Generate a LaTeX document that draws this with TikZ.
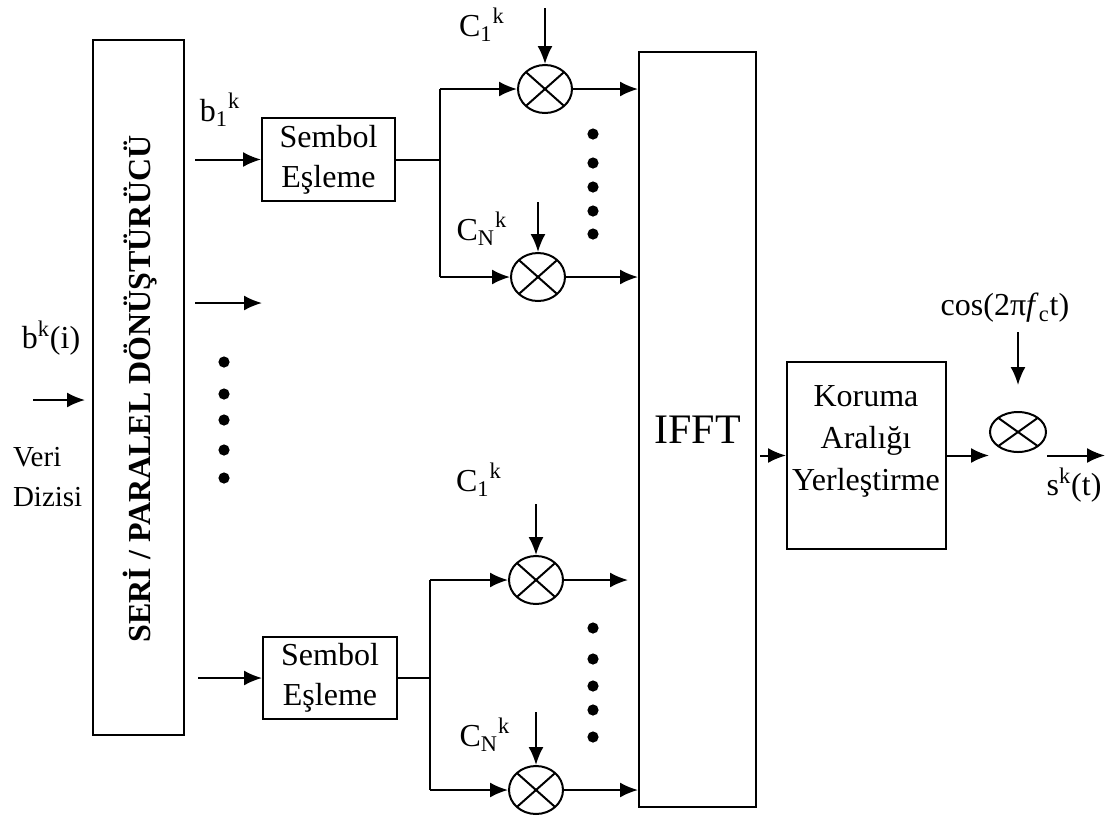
\documentclass[tikz,border=0pt]{standalone}
\usepackage{fontspec}
\setmainfont{Liberation Serif}
\usetikzlibrary{shapes.geometric,arrows.meta}

\begin{document}
\begin{tikzpicture}[x=0.5pt, y=-0.5pt, line width=1pt,
    every node/.style={font=\fontsize{16}{20}\selectfont},
    >={Latex[length=9pt,width=7.5pt]},
    blok/.style={draw, rectangle, align=center, inner sep=0pt},
    mixer/.style={draw, ellipse, minimum width=27pt, minimum height=24pt, inner sep=0pt,
        path picture={\draw (path picture bounding box.north west) -- (path picture bounding box.south east)
            (path picture bounding box.north east) -- (path picture bounding box.south west);}}]
    \useasboundingbox (0,0) rectangle (1110,821);

    % Seri / paralel donusturucu
    \node[blok, minimum width=45.5pt, minimum height=347.5pt] (sp) at (138.5,387.5) {};
    \node[rotate=90, font=\bfseries\fontsize{16}{20}\selectfont] (sptxt) at (140,389) {SERİ / PARALEL DÖNÜŞTÜRÜCÜ};

    % Giris
    \coordinate (giris) at (33,400);
    \draw[->, shorten >=3.5pt] (giris) -- (giris -| sp.west);
    \node (bki) at (51,338) {b\textsuperscript{k}(i)};
    \node[align=left, anchor=west, inner sep=0pt, font=\fontsize{14.5}{20}\selectfont] (veri) at (12,477) {Veri\\Dizisi};

    % Sembol esleme bloklari
    \node[blok, minimum width=66.5pt, minimum height=41.5pt] (sem1) at (328.5,159.5) {Sembol\\Eşleme};
    \node[blok, minimum width=67pt, minimum height=41pt] (sem2) at (330,678) {Sembol\\Eşleme};
    \node (b1k) at (220,110) {b\textsubscript{1}\textsuperscript{k}};

    \coordinate (ara) at (262,303);
    \draw[->, shorten <=5pt] (sp.east |- sem1) -- (sem1.west);
    \draw[->, shorten <=5pt] (sp.east |- ara) -- (ara);
    \draw[->, shorten <=6.5pt] (sp.east |- sem2) -- (sem2.west);

    % Noktalar (sol)
    \foreach \y in {362,394,420,450,478}
        \fill (224,\y) circle (2.8pt);

    % Carpicilar
    \node[mixer] (m1) at (545,89) {};
    \node[mixer] (m2) at (538,277) {};
    \node[mixer] (m3) at (536,580) {};
    \node[mixer] (m4) at (536,790) {};

    % IFFT
    \node[blok, minimum width=58.5pt, minimum height=377.5pt, font=\fontsize{21}{25}\selectfont] (ifft) at (697.5,429.5) {IFFT};

    % Ust dal
    \coordinate (b1u) at (440,89);
    \coordinate (b1a) at (440,277);
    \draw (sem1.east) -- (sem1.east -| b1u);
    \draw (b1u) -- (b1a);
    \draw[->] (b1u) -- (m1.west);
    \draw[->] (b1a) -- (m2.west);
    \draw[->] (m1.east) -- (m1 -| ifft.west);
    \draw[->] (m2.east) -- (m2 -| ifft.west);
    \draw[<-] (m1.north) -- ++(0,-56);
    \draw[<-] (m2.north) -- ++(0,-50);
    \node (c1u) at (482,25) {C\textsubscript{1}\textsuperscript{k}};
    \node (cnu) at (482,229) {C\textsubscript{N}\textsuperscript{k}};
    \foreach \y in {134,163,187,211,234}
        \fill (593,\y) circle (2.8pt);

    % Alt dal
    \coordinate (b2u) at (430,580);
    \coordinate (b2a) at (430,790);
    \draw (sem2.east) -- (sem2.east -| b2u);
    \draw (b2u) -- (b2a);
    \draw[->] (b2u) -- (m3.west);
    \draw[->] (b2a) -- (m4.west);
    \draw[->, shorten >=5pt] (m3.east) -- (m3 -| ifft.west);
    \draw[->] (m4.east) -- (m4 -| ifft.west);
    \draw[<-] (m3.north) -- ++(0,-51);
    \draw[<-] (m4.north) -- ++(0,-53);
    \node (c1a) at (479,480) {C\textsubscript{1}\textsuperscript{k}};
    \node (cna) at (485,735) {C\textsubscript{N}\textsuperscript{k}};
    \foreach \y in {628,659,686,710,737}
        \fill (593,\y) circle (2.8pt);

    % Koruma araligi ve tasiyici
    \node[blok, minimum width=79.5pt, minimum height=93.5pt] (kor) at (866.5,455.5) {};
    \node[align=center, font=\fontsize{16}{21}\selectfont] (kortxt) at (866,441) {Koruma\\Aralığı\\Yerleştirme};
    \node[mixer, minimum width=28pt, minimum height=20pt] (m5) at (1018,432) {};
    \draw[->, shorten <=1.5pt] (ifft.east |- kor) -- (kor.west);
    \draw[->] (kor.east) -- (kor.east -| m5.west);
    \draw[<-, shorten <=13pt] (m5.north) -- ++(0,-79);
    \node (cos) at (1005,308) {cos(2π\textit{f}\textsubscript{c}t)};
    \coordinate (cikis) at (1105,455.5);
    \draw[->] (kor.east -| m5.east) -- (cikis);
    \node (skt) at (1074,485) {s\textsuperscript{k}(t)};
\end{tikzpicture}
\end{document}
